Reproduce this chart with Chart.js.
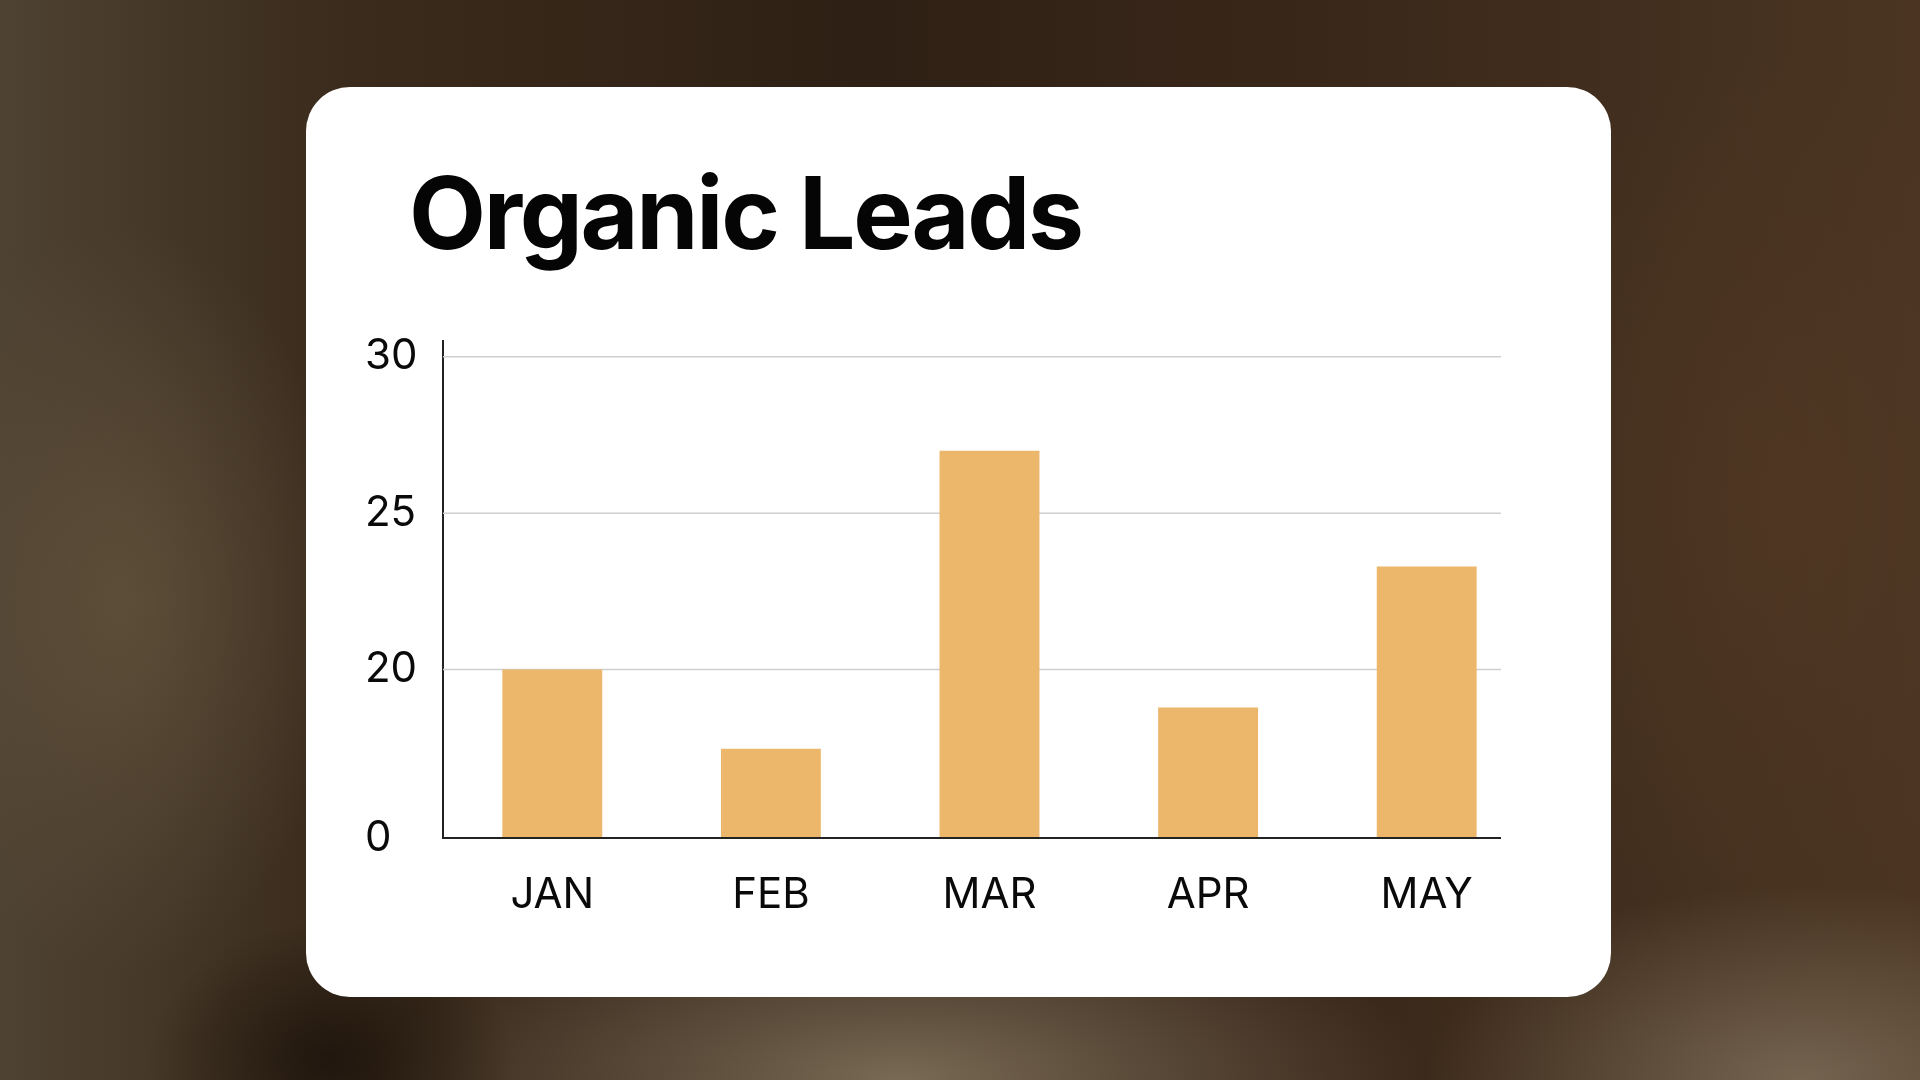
<!DOCTYPE html>
<html>
<head>
<meta charset="utf-8">
<script src="https://cdn.jsdelivr.net/npm/chart.js@4.4.1/dist/chart.umd.min.js"></script>
<style>
  html, body { margin: 0; padding: 0; }
  body {
    width: 1920px; height: 1080px; overflow: hidden; position: relative;
    background:
      radial-gradient(ellipse 260px 200px at 330px 1060px, rgba(30,20,12,0.9), rgba(30,20,12,0) 70%),
      radial-gradient(ellipse 700px 260px at 900px 1080px, rgba(125,110,88,0.95), rgba(125,110,88,0) 75%),
      radial-gradient(ellipse 500px 260px at 1800px 1080px, rgba(120,105,85,0.9), rgba(120,105,85,0) 75%),
      radial-gradient(ellipse 300px 500px at 120px 600px, rgba(95,80,58,0.9), rgba(95,80,58,0) 75%),
      radial-gradient(ellipse 400px 600px at 1780px 500px, rgba(80,55,35,0.8), rgba(80,55,35,0) 75%),
      linear-gradient(90deg, #4e4232 0%, #3a2b1c 18%, #2f2015 45%, #3c2a1b 75%, #4b3522 100%);
  }
  #card {
    position: absolute; left: 306px; top: 87px; width: 1305px; height: 910px;
    background: #fff; border-radius: 44px;
  }
  #title {
    position: absolute; left: 409px; top: 148px; margin: 0;
    font-family: Inter, "Liberation Sans", sans-serif; font-weight: 700;
    font-size: 100px; line-height: 130px; letter-spacing: -2.3px; color: #050505;
  }
  #wrap { position: absolute; left: 355px; top: 289px; width: 1205px; height: 639px; }
</style>
</head>
<body>
<div id="card"></div>
<h1 id="title">Organic Leads</h1>
<div id="wrap"><canvas id="leads-chart"></canvas></div>
<script>
const months = ['JAN', 'FEB', 'MAR', 'APR', 'MAY'];
const leads = [20, 10.6, 27, 15.5, 23.3];
const yTicks = [0, 20, 25, 30];

// the axis is broken: 0-20 squeezed into the bottom part, 20-30 stretched above
const breakAt = 20;
const lowFrac = 0.339;

class BrokenScale extends Chart.LinearScale {
  getPixelForValue(value) {
    if (value === null || value === undefined) return NaN;
    const h = this.bottom - this.top;
    const lowH = h * lowFrac;
    if (value <= breakAt) {
      return this.bottom - ((value - this.min) / (breakAt - this.min)) * lowH;
    }
    return this.bottom - lowH - ((value - breakAt) / (this.max - breakAt)) * (h - lowH);
  }
  getValueForPixel(pixel) {
    const h = this.bottom - this.top;
    const lowH = h * lowFrac;
    const d = this.bottom - pixel;
    if (d <= lowH) return this.min + (d / lowH) * (breakAt - this.min);
    return breakAt + ((d - lowH) / (h - lowH)) * (this.max - breakAt);
  }
}
BrokenScale.id = 'broken';
BrokenScale.defaults = Chart.LinearScale.defaults;
Chart.register(BrokenScale);

// grid lines + bottom axis stop short of the right edge, like the original
const shortGrid = {
  id: 'shortGrid',
  beforeDatasetsDraw(chart) {
    const { ctx, chartArea, scales } = chart;
    const right = chartArea.right - 35;
    ctx.save();
    ctx.strokeStyle = '#cfcfd2';
    ctx.lineWidth = 1.5;
    yTicks.forEach((v) => {
      if (v === 0) return;
      const y = scales.y.getPixelForValue(v);
      ctx.beginPath();
      ctx.moveTo(chartArea.left, y);
      ctx.lineTo(right, y);
      ctx.stroke();
    });
    ctx.restore();
  },
  afterDatasetsDraw(chart) {
    const { ctx, chartArea, scales } = chart;
    const y = scales.y.getPixelForValue(0);
    ctx.save();
    ctx.strokeStyle = '#222';
    ctx.lineWidth = 2;
    ctx.beginPath();
    ctx.moveTo(chartArea.left - 1, y);
    ctx.lineTo(chartArea.right - 35, y);
    ctx.stroke();
    ctx.restore();
  },
};

new Chart(document.getElementById('leads-chart'), {
  type: 'bar',
  data: {
    labels: months,
    datasets: [
      {
        data: leads,
        backgroundColor: '#ecb76b',
        borderWidth: 0,
        barPercentage: 0.457,
        categoryPercentage: 1,
      },
    ],
  },
  options: {
    responsive: true,
    maintainAspectRatio: false,
    animation: false,
    layout: { padding: { left: 10, top: 39, right: 24, bottom: 0 } },
    plugins: { legend: { display: false }, tooltip: { enabled: false } },
    scales: {
      x: {
        grid: { display: false },
        border: { display: false },
        afterFit: (s) => { s.height = 90; },
        ticks: {
          color: '#0a0a0a',
          padding: 24,
          font: { family: 'Inter', size: 42 },
        },
      },
      y: {
        type: 'broken',
        min: 0,
        max: 30.5,
        bounds: 'data',
        afterBuildTicks: (s) => { s.ticks = yTicks.map((v) => ({ value: v })); },
        afterFit: (s) => { s.width = 78; },
        grid: { display: false, drawTicks: false },
        border: { display: true, color: '#222', width: 2 },
        ticks: {
          color: '#0a0a0a',
          crossAlign: 'far',
          padding: 27,
          font: { family: 'Inter', size: 42 },
        },
      },
    },
  },
  plugins: [shortGrid],
});
</script>
</body>
</html>
